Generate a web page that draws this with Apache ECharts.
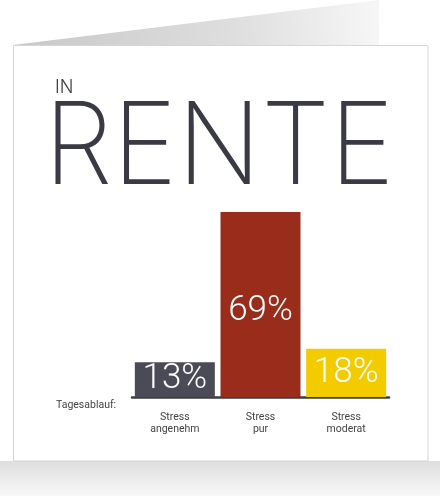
<!DOCTYPE html>
<html>
<head>
<meta charset="utf-8">
<script src="https://cdn.jsdelivr.net/npm/echarts@6/dist/echarts.min.js"></script>
<style>
html,body{margin:0;padding:0;background:#fff;}
#c{width:440px;height:496px;}
</style>
</head>
<body>
<div id="c"></div>
<script>
const categories = ['Stress\nangenehm', 'Stress\npur', 'Stress\nmoderat'];
const values = [13, 69, 18];
const barColors = ['#4b4b57', '#9a2c1c', '#f2cb00'];
const titleSmall = 'IN';
const titleBig = 'RENTE';
const axisName = 'Tagesablauf:';

const chart = echarts.init(document.getElementById('c'), null, {renderer: 'canvas'});
const ink = '#3a3a45';
chart.setOption({
  backgroundColor: '#ffffff',
  animation: false,
  graphic: [
    {type: 'rect', z: -10, shape: {x: 0, y: 461, width: 440, height: 35},
     style: {fill: new echarts.graphic.LinearGradient(0, 0, 0, 1, [
       {offset: 0, color: '#dedede'}, {offset: 1, color: '#f8f8f8'}])}},
    {type: 'polygon', z: -10, shape: {points: [[13, 45], [379, 0], [379, 45]]},
     style: {fill: new echarts.graphic.LinearGradient(0, 1, 1, 0, [
       {offset: 0, color: '#c8c8c8'}, {offset: 0.6, color: '#dedede'}, {offset: 1, color: '#f7f7f7'}])}},
    {type: 'rect', z: -9, shape: {x: 13.5, y: 45.5, width: 414.5, height: 415.5},
     style: {fill: '#ffffff', stroke: '#d6d6d6', lineWidth: 1}},
    {type: 'text', z: 5, x: 55, y: 79,
     style: {text: titleSmall, fill: ink, font: '300 18px Inter', textVerticalAlign: 'top'}},
    {type: 'text', z: 5, x: 44, y: 93, scaleX: 0.962,
     style: {text: titleBig, fill: ink, font: '200 114px Inter', textVerticalAlign: 'top'}},
    {type: 'text', z: 5, x: 56, y: 405,
     style: {text: axisName, fill: '#444', font: '10.5px Roboto', textVerticalAlign: 'middle'}}
  ],
  grid: {left: 132, right: 51, top: 212, bottom: 99, containLabel: false},
  xAxis: {
    type: 'category',
    data: categories,
    offset: 9,
    axisLine: {show: true, lineStyle: {color: '#3c3c46', width: 2.5}},
    axisTick: {show: false},
    axisLabel: {color: '#444', fontSize: 10.5, lineHeight: 12, margin: 5, fontFamily: 'Roboto'}
  },
  yAxis: {
    type: 'value', min: 0, max: 69,
    show: false, splitLine: {show: false}
  },
  series: [{
    type: 'bar',
    barWidth: 80,
    data: values.map((v, i) => ({
      value: v,
      itemStyle: {color: barColors[i]},
      label: i === 1 ? {offset: [0, 7]} : {}
    })),
    label: {
      show: true, position: 'inside', color: '#ffffff',
      fontSize: 35, fontWeight: 300, fontFamily: 'Roboto',
      formatter: '{c}%'
    }
  }]
});
</script>
</body>
</html>
